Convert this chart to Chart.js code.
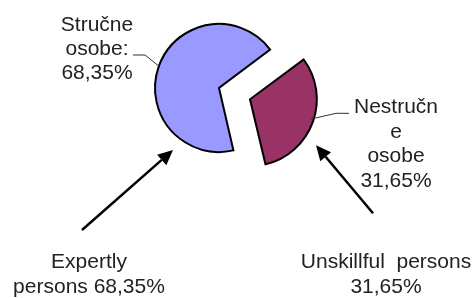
<!DOCTYPE html>
<html>
<head>
<meta charset="utf-8">
<script src="https://cdn.jsdelivr.net/npm/chart.js@4"></script>
<style>
  html, body { margin: 0; padding: 0; background: #fff; }
  #wrap { width: 473px; height: 298px; }
</style>
</head>
<body>
<div id="wrap"><canvas id="pieChart" width="473" height="298"></canvas></div>
<script>
// Datos del gráfico
const categorias = ['Stručne osobe', 'Nestručne osobe'];
const valores = [68.35, 31.65];
const colores = ['#9999FF', '#993366'];
// Etiquetas sobre el gráfico (serbio) y debajo (inglés)
const etiquetasSr = [['Stručne', 'osobe:', '68,35%'], ['Nestručn', 'e', 'osobe', '31,65%']];
const etiquetasEn = [['Expertly', 'persons 68,35%'], ['Unskillful  persons', '31,65%']];

const FONT = '21px "Liberation Sans", Arial, sans-serif';

function arrow(ctx, x1, y1, x2, y2) {
    const ang = Math.atan2(y2 - y1, x2 - x1);
    const len = 15, w = 7;
    const bx = x2 - Math.cos(ang) * len, by = y2 - Math.sin(ang) * len;
    ctx.strokeStyle = '#000';
    ctx.lineWidth = 2.5;
    ctx.beginPath();
    ctx.moveTo(x1, y1);
    ctx.lineTo(bx, by);
    ctx.stroke();
    ctx.fillStyle = '#000';
    ctx.beginPath();
    ctx.moveTo(x2, y2);
    ctx.lineTo(bx + Math.sin(ang) * w, by - Math.cos(ang) * w);
    ctx.lineTo(bx - Math.sin(ang) * w, by + Math.cos(ang) * w);
    ctx.closePath();
    ctx.fill();
}

function lines(ctx, arr, x, y, step) {
    arr.forEach((t, i) => ctx.fillText(t, x, y + i * step));
}

// Plugin para etiquetas, líneas guía y flechas
const anotaciones = {
    id: 'anotaciones',
    afterDraw(chart) {
        const ctx = chart.ctx;
        const arcs = chart.getDatasetMeta(0).data;
        const a0 = arcs[0], a1 = arcs[1];
        const cx = a0.x, cy = a0.y, R = a0.outerRadius;
        // centro del sector desplazado
        const mid = (a1.startAngle + a1.endAngle) / 2;
        const off = (a1.options.offset || 0) / 4;
        const rx = a1.x + Math.cos(mid) * off, ry = a1.y + Math.sin(mid) * off;

        ctx.save();
        // líneas guía
        ctx.strokeStyle = '#333';
        ctx.lineWidth = 1;
        const p0 = 200 * Math.PI / 180;
        ctx.beginPath();
        ctx.moveTo(cx - 86, cy - 33);
        ctx.lineTo(cx - 74, cy - 33);
        ctx.lineTo(cx + Math.cos(p0) * R, cy + Math.sin(p0) * R);
        ctx.stroke();
        const p1 = 18 * Math.PI / 180;
        ctx.beginPath();
        ctx.moveTo(rx + 99, ry + 14);
        ctx.lineTo(rx + 86, ry + 14);
        ctx.lineTo(rx + Math.cos(p1) * R, ry + Math.sin(p1) * R);
        ctx.stroke();

        // flechas
        arrow(ctx, cx - 137, cy + 142, cx - 46, cy + 62);
        arrow(ctx, rx + 123, ry + 114, rx + 66, ry + 46);

        // textos
        ctx.font = FONT;
        ctx.fillStyle = '#222';
        ctx.textAlign = 'center';
        ctx.textBaseline = 'middle';
        lines(ctx, etiquetasSr[0], cx - 122, cy - 63, 24);
        lines(ctx, etiquetasSr[1], rx + 146, ry + 8, 24.5);
        lines(ctx, etiquetasEn[0], cx - 130, cy + 174, 25);
        lines(ctx, etiquetasEn[1], rx + 136, ry + 163, 25);
        ctx.restore();
    }
};

new Chart(document.getElementById('pieChart'), {
    type: 'pie',
    data: {
        labels: categorias,
        datasets: [{
            data: valores,
            backgroundColor: colores,
            borderColor: '#000',
            borderWidth: 2,
            borderJoinStyle: 'miter',
            offset: [0, 132],
            hoverOffset: 0
        }]
    },
    options: {
        responsive: false,
        animation: false,
        rotation: 167,
        radius: 64,
        layout: { padding: { left: 0, top: 0, right: 35, bottom: 122 } },
        plugins: {
            legend: { display: false },
            tooltip: { enabled: false }
        },
        events: []
    },
    plugins: [anotaciones]
});
</script>
</body>
</html>
